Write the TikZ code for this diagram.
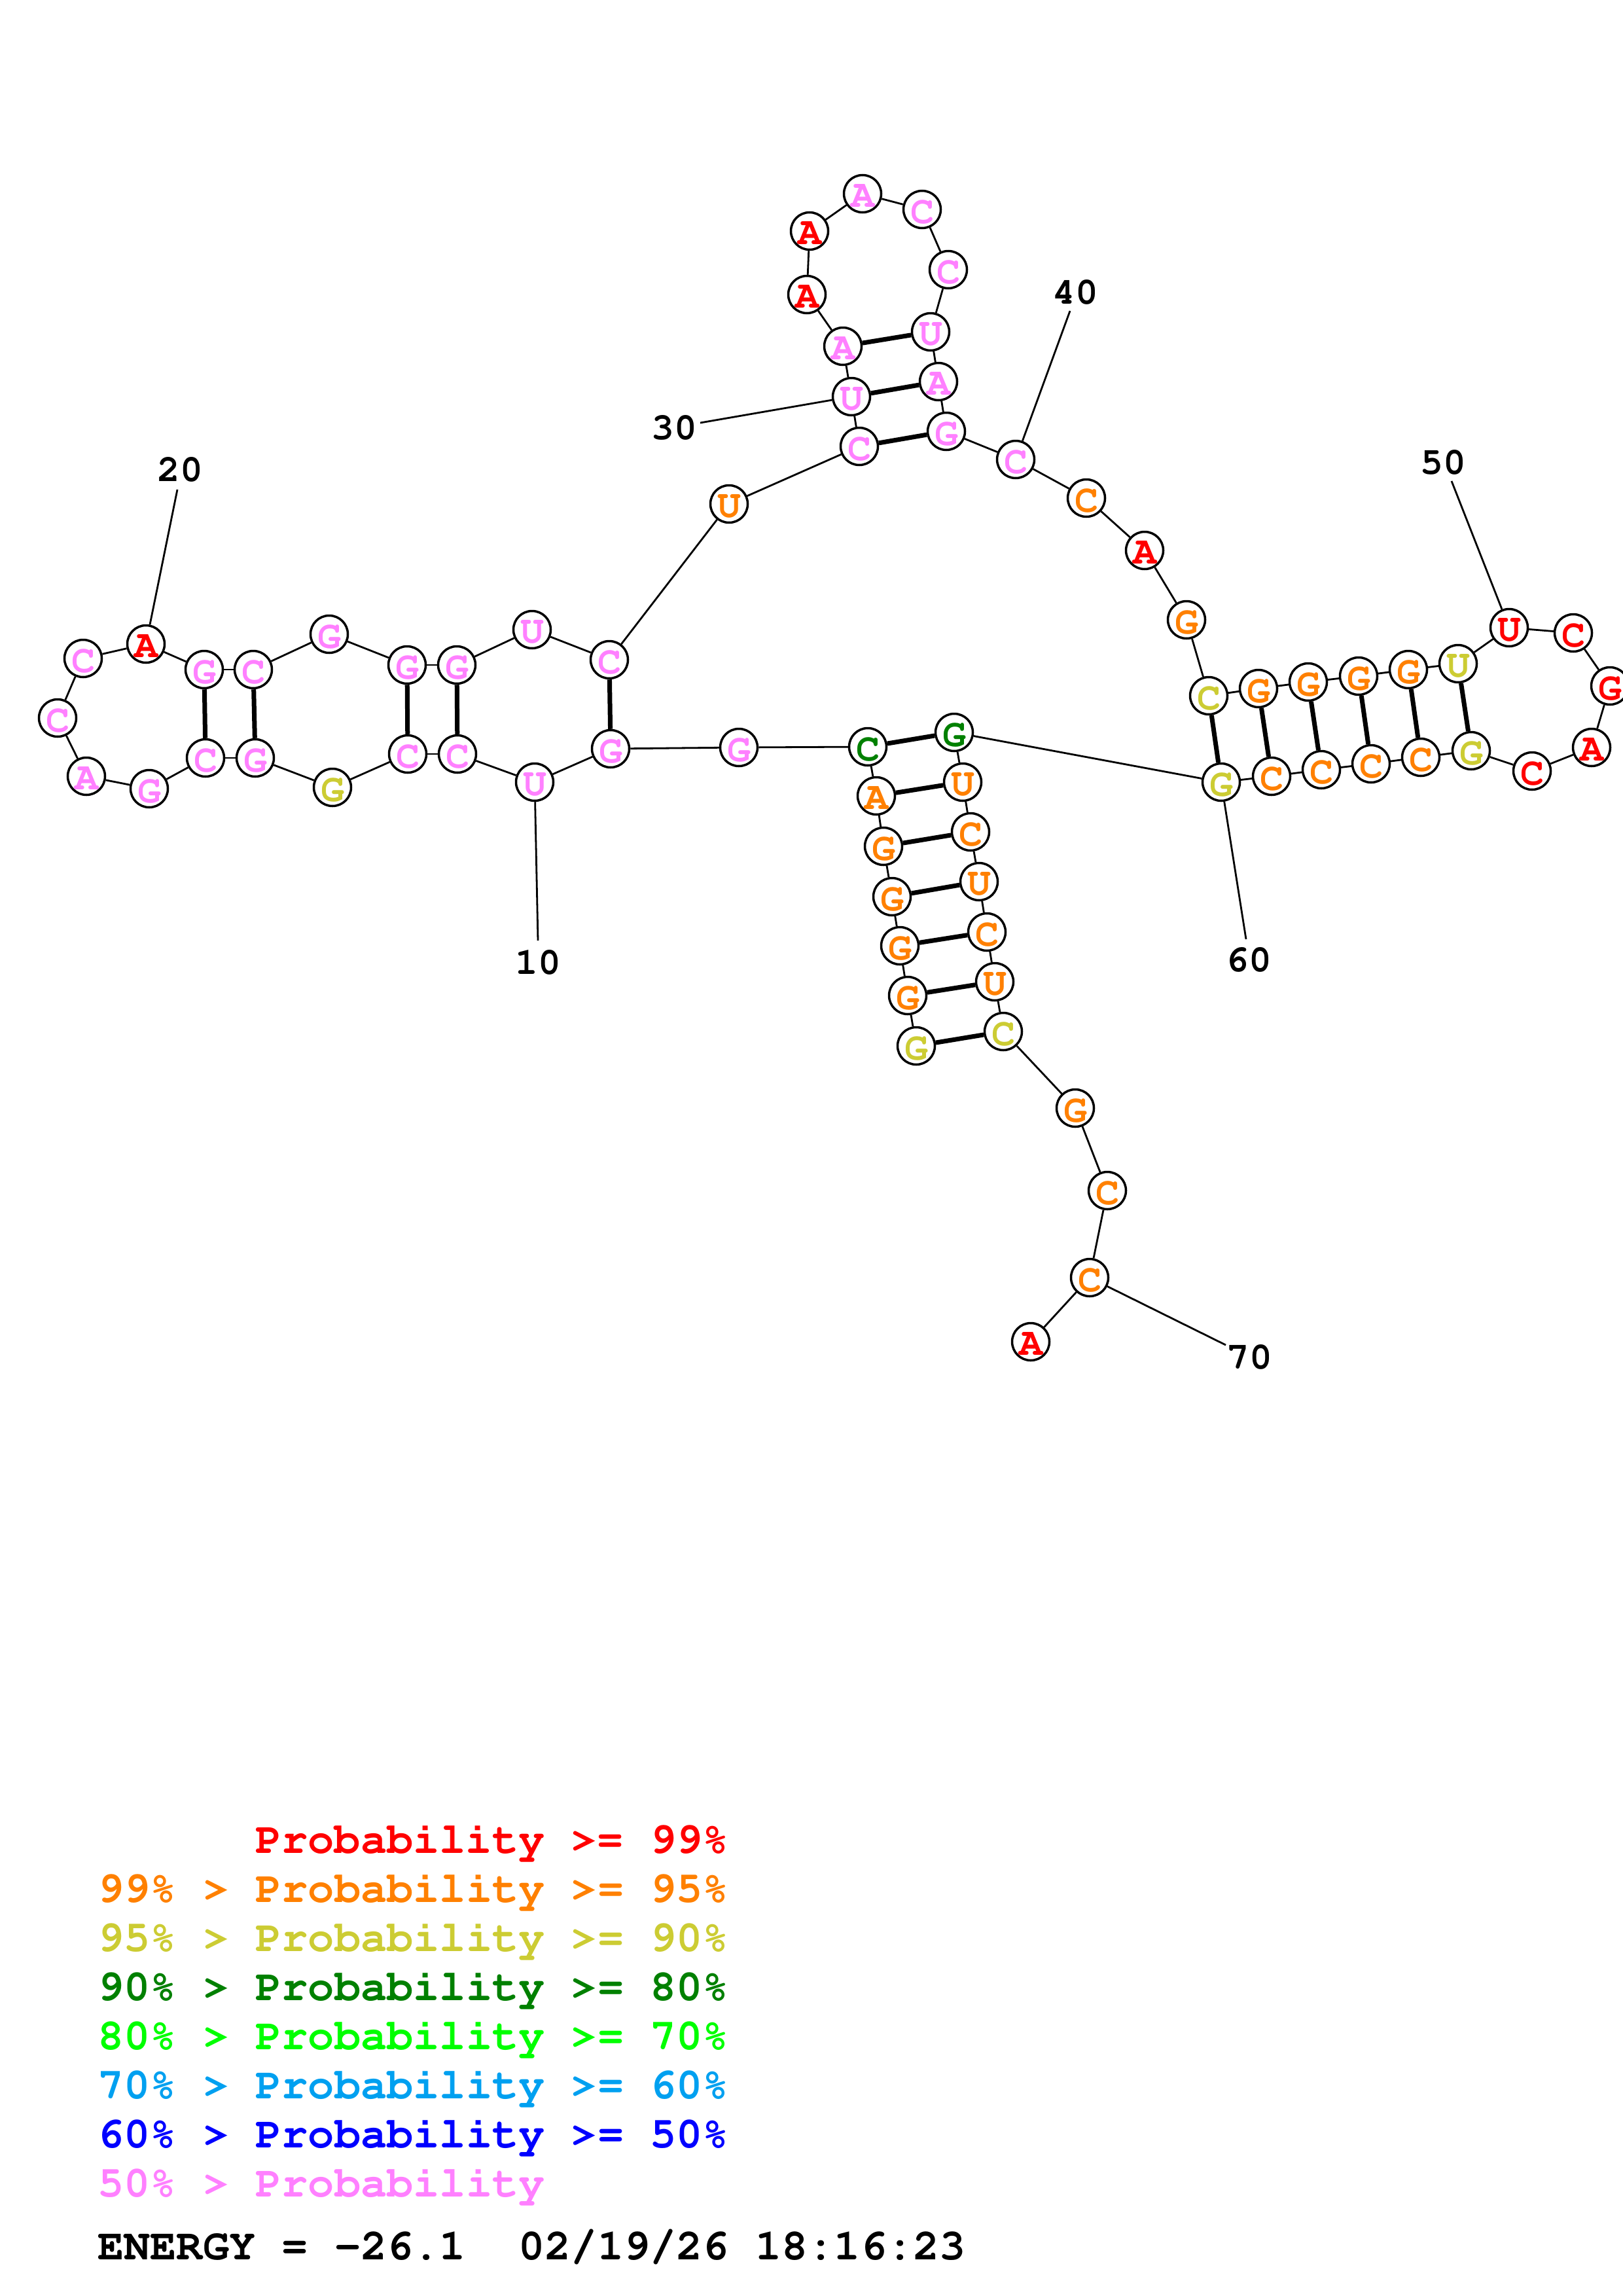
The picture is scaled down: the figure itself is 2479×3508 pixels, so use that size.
\documentclass[tikz,border=0pt]{standalone}
\usepackage[T1]{fontenc}
\usetikzlibrary{backgrounds}
\newcommand\courb{\fontfamily{pcr}\fontseries{b}\fontshape{n}\selectfont}
\definecolor{pr}{HTML}{FF0000}
\definecolor{po}{HTML}{FF8000}
\definecolor{py}{HTML}{CCCC33}
\definecolor{pd}{HTML}{008000}
\definecolor{pg}{HTML}{00FF00}
\definecolor{ps}{HTML}{00A0F0}
\definecolor{pb}{HTML}{0000FF}
\definecolor{pp}{HTML}{FF80FF}
\begin{document}
\begin{tikzpicture}[x=1pt,y=-1pt,
  nt/.style={circle,draw=black,fill=white,line width=3.5pt,minimum size=57pt,inner sep=0pt},
  ltr/.style={inner sep=0pt,yshift=-4pt,font=\courb\fontsize{60pt}{60pt}\selectfont},
  bb/.style={line width=2.8pt},
  bp/.style={line width=7pt},
  lbl/.style={inner sep=0pt,font=\courb\fontsize{58pt}{58pt}\selectfont},
  leg/.style={anchor=base west,inner sep=0pt,font=\courb\fontsize{67pt}{67pt}\selectfont}]
\useasboundingbox (0,0) rectangle (2479,3508);
\foreach \ii/\nn/\cc/\xx/\yy in {
1/G/py/1400/1598, 2/G/po/1387/1521, 3/G/po/1375/1445, 4/G/po/1363/1370,
5/G/po/1350/1293, 6/A/po/1339/1216, 7/C/pd/1326/1141, 8/G/pp/1129/1142,
9/G/pp/933/1144, 10/U/pp/817/1195, 11/C/pp/699/1152, 12/C/pp/623/1152,
13/G/py/508/1203, 14/G/pp/390/1158, 15/C/pp/314/1158, 16/G/pp/228/1205,
17/A/pp/132/1186, 18/C/pp/88/1097, 19/C/pp/127/1006, 20/A/pr/223/984,
21/G/pp/312/1023, 22/C/pp/387/1023, 23/G/pp/503/969, 24/G/pp/622/1016,
25/G/pp/698/1016, 26/U/pp/813/962, 27/C/pp/931/1008, 28/U/po/1114/770,
29/C/pp/1313/682, 30/U/pp/1301/606, 31/A/pp/1288/529, 32/A/pr/1233/450,
33/A/pr/1237/353, 34/A/pp/1318/296, 35/C/pp/1409/320, 36/C/pp/1449/412,
37/U/pp/1422/507, 38/A/pp/1434/583, 39/G/pp/1446/659, 40/C/pp/1552/702,
41/C/po/1660/761, 42/A/pr/1749/841, 43/G/po/1813/947, 44/C/py/1847/1063,
45/G/po/1923/1052, 46/G/po/1999/1042, 47/G/po/2076/1033, 48/G/po/2152/1023,
49/U/py/2228/1014, 50/U/pr/2306/959, 51/C/pr/2404/967, 52/G/pr/2460/1048,
53/A/pr/2432/1142, 54/C/pr/2341/1178, 55/G/py/2248/1147, 56/C/po/2171/1157,
57/C/po/2095/1167, 58/C/po/2019/1176, 59/C/po/1943/1186, 60/G/py/1866/1195,
61/G/pd/1458/1119, 62/U/po/1471/1195, 63/C/po/1483/1271, 64/U/po/1496/1347,
65/C/po/1508/1424, 66/U/po/1520/1500, 67/C/py/1533/1576, 68/G/po/1643/1693,
69/C/po/1692/1819, 70/C/po/1665/1952, 71/A/pr/1575/2050}
  \node[nt,label={[ltr,text=\cc]center:\nn}] (n\ii) at (\xx,\yy) {};
% number labels
\foreach \ii/\ex/\ey/\tx/\ty in {10/822/1437/822/1471, 20/271/748/275/718,
  30/1070/646/1030/654, 40/1635/475/1643/447, 50/2218/735/2205/707,
  60/1904/1435/1908/1467, 70/1873/2055/1909/2074} {
  \coordinate (e\ii) at (\ex,\ey);
  \node[lbl] (t\ii) at (\tx,\ty) {\ii};
}
\begin{scope}[on background layer]
  \foreach \ii [evaluate=\ii as \jj using int(\ii+1)] in {1,...,70}
    \draw[bb] (n\ii) -- (n\jj);
  \foreach \aa/\bb in {1/67,2/66,3/65,4/64,5/63,6/62,7/61,9/27,11/25,12/24,
    14/22,15/21,29/39,30/38,31/37,44/60,45/59,46/58,47/57,48/56,49/55}
    \draw[bp] (n\aa) -- (n\bb);
  \foreach \ii in {10,20,30,40,50,60,70}
    \draw[bb] (n\ii) -- (e\ii);
\end{scope}
% legend
\node[leg,text=pr] (g1) at (390,2831) {Probability >= 99\%};
\node[leg,text=po] (g2) at (149,2906) {99\% > Probability >= 95\%};
\node[leg,text=py] (g3) at (149,2981) {95\% > Probability >= 90\%};
\node[leg,text=pd] (g4) at (149,3056) {90\% > Probability >= 80\%};
\node[leg,text=pg] (g5) at (149,3131) {80\% > Probability >= 70\%};
\node[leg,text=ps] (g6) at (149,3206) {70\% > Probability >= 60\%};
\node[leg,text=pb] (g7) at (149,3281) {60\% > Probability >= 50\%};
\node[leg,text=pp] (g8) at (149,3356) {50\% > Probability};
\node[leg,text=black] (g9) at (149,3452) {ENERGY = -26.1\ \ 02/19/26 18:16:23};
\end{tikzpicture}
\end{document}
